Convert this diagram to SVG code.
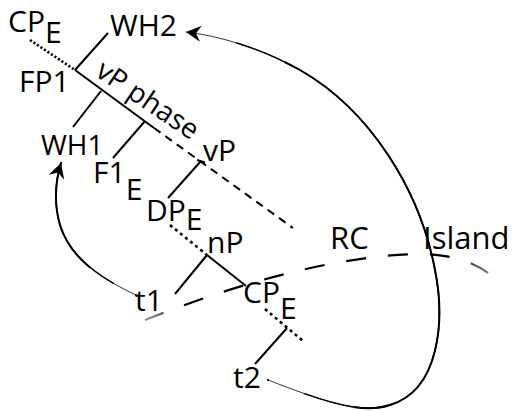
<svg xmlns="http://www.w3.org/2000/svg" width="516" height="411" viewBox="0 0 516 411">
  <style>
    text { font-family: "Open Sans", "DejaVu Sans", sans-serif; font-size: 30px; fill: #000; }
    .big { font-size: 31px; }
    .phase { font-size: 28px; }
    .small { font-size: 28px; }
    .edge { fill: none; stroke: #000; stroke-width: 2; stroke-linecap: butt; }
    .dot { fill: none; stroke: #000; stroke-width: 2.6; stroke-dasharray: 2.2 2; }
    .dot2 { fill: none; stroke: #000; stroke-width: 2.6; stroke-dasharray: 3 3.5; }
    .dash { fill: none; stroke: #000; stroke-width: 2; stroke-dasharray: 8 6; }
    .move { fill: none; stroke: #000; stroke-linecap: round; }
  </style>
  <defs>
    <marker id="head" markerUnits="userSpaceOnUse" markerWidth="20" markerHeight="20" refX="0" refY="0" viewBox="-14 -8 16 16" orient="auto">
      <path d="M0,0 L-12,-6.5 L-8,0 L-12,6.5 z" fill="#000"/>
    </marker>
    <linearGradient id="rcFade" gradientUnits="userSpaceOnUse" x1="145" y1="0" x2="493" y2="0">
      <stop offset="0" stop-color="#999"/>
      <stop offset="0.12" stop-color="#000"/>
      <stop offset="0.86" stop-color="#000"/>
      <stop offset="1" stop-color="#888"/>
    </linearGradient>
  </defs>

  <!-- tree structure and movement arrows -->
  <g id="connectors">
    <!-- main spine: CP_E ... FP1 — vP phase — vP ... -->
    <line class="dot" x1="30" y1="40" x2="75" y2="70"/>
    <line class="edge" x1="75" y1="70" x2="154" y2="128"/>
    <line class="dash" x1="154" y1="128" x2="293" y2="228"/>
    <!-- branches off the spine -->
    <line class="edge" x1="75" y1="70" x2="108" y2="33"/>
    <line class="edge" x1="101" y1="91" x2="73" y2="127"/>
    <line class="edge" x1="145" y1="121" x2="113" y2="158"/>
    <line class="edge" x1="201" y1="161" x2="168" y2="198"/>
    <line class="edge" x1="197" y1="160" x2="205" y2="162.5"/>
    <!-- lower spine: DP_E ... nP — CP_E ... -->
    <line class="dot2" x1="170" y1="225" x2="207" y2="255"/>
    <line class="edge" x1="207" y1="255" x2="246" y2="286"/>
    <line class="edge" x1="207" y1="255" x2="175" y2="294"/>
    <line class="dot2" x1="265" y1="309" x2="303" y2="341"/>
    <line class="edge" x1="287" y1="328" x2="255" y2="364"/>

    <!-- RC island boundary -->
    <path d="M145,320 C220,290 330,255 420,254 C455,254 480,265 493,277" fill="none" stroke="url(#rcFade)" stroke-width="2.2" stroke-dasharray="20 22"/>

    <!-- t1 to WH1 -->
    <path class="move" d="M136,295 C100,278 70,258 60,225 C54,205 55,182 61,163" stroke="#444" stroke-width="0.8" marker-end="url(#head)"/>
    <path class="move" d="M136,295 C100,278 70,258 60,225 C54,205 55,182 61,163" pathLength="100" stroke-width="1.4" stroke-dasharray="0 15 85 0"/>
    <path class="move" d="M136,295 C100,278 70,258 60,225 C54,205 55,182 61,163" pathLength="100" stroke-width="2" stroke-dasharray="0 32 68 0"/>

    <!-- t2 to WH2 -->
    <path class="move" d="M268,380 C320,400 360,415 390,405 C440,390 445,320 435,270 C420,190 370,110 300,70 C260,48 220,36 186,32" stroke="#444" stroke-width="0.8" marker-end="url(#head)"/>
    <path class="move" d="M268,380 C320,400 360,415 390,405 C440,390 445,320 435,270 C420,190 370,110 300,70 C260,48 220,36 186,32" pathLength="100" stroke-width="1.4" stroke-dasharray="0 6 86 100"/>
    <path class="move" d="M268,380 C320,400 360,415 390,405 C440,390 445,320 435,270 C420,190 370,110 300,70 C260,48 220,36 186,32" pathLength="100" stroke-width="2" stroke-dasharray="0 14 70 100"/>
  </g>

  <g id="CPE-top"><text x="8" y="32">CP<tspan dy="11">E</tspan></text></g>
  <g id="WH2"><text x="110" y="36">WH2</text></g>
  <g id="FP1"><text x="19" y="92">FP1</text></g>
  <g id="vP-phase"><text class="phase" transform="translate(94,75) rotate(34)">vP phase</text></g>
  <g id="WH1"><text class="small" x="41" y="155">WH1</text></g>
  <g id="F1E"><text x="93" y="183">F1<tspan dy="17">E</tspan></text></g>
  <g id="vP"><text x="203" y="161">vP</text></g>
  <g id="DPE"><text x="146" y="221">DP<tspan dy="9">E</tspan></text></g>
  <g id="nP"><text x="207" y="253">nP</text></g>
  <g id="CPE-low"><text x="243" y="303">CP<tspan dy="16">E</tspan></text></g>
  <g id="t1"><text x="135" y="311">t1</text></g>
  <g id="t2"><text x="233" y="388">t2</text></g>
  <g id="RC"><text class="big" x="330" y="249">RC</text></g>
  <g id="Island"><text class="big" x="423" y="249">Island</text></g>
</svg>
